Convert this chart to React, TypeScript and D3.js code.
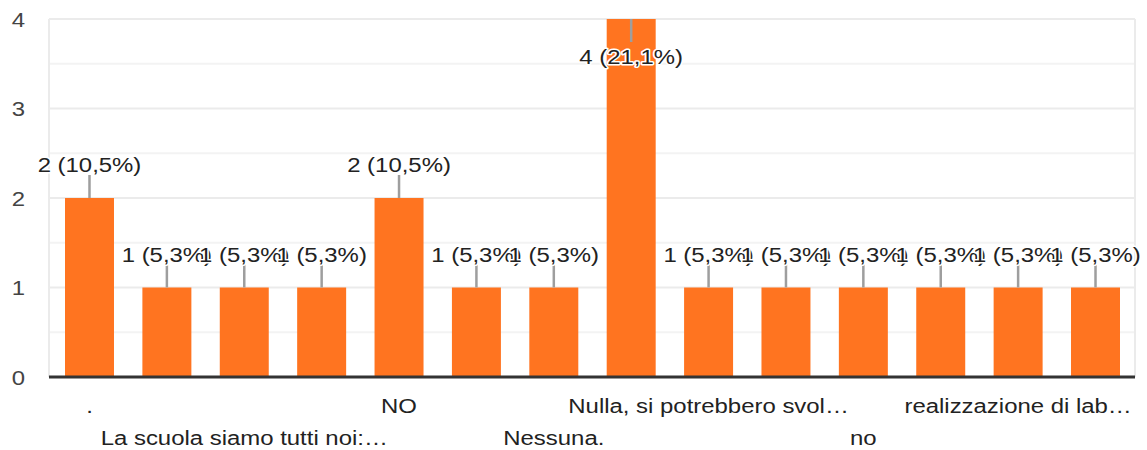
import React from "react";
import * as d3 from "d3";

const categories = [
  ".",
  "",
  "La scuola siamo tutti noi:…",
  "",
  "NO",
  "",
  "Nessuna.",
  "",
  "Nulla, si potrebbero svol…",
  "",
  "no",
  "",
  "realizzazione di lab…",
  "",
];
const values = [2, 1, 1, 1, 2, 1, 1, 4, 1, 1, 1, 1, 1, 1];
const percents = ["10,5%", "5,3%", "5,3%", "5,3%", "10,5%", "5,3%", "5,3%", "21,1%", "5,3%", "5,3%", "5,3%", "5,3%", "5,3%", "5,3%"];
const yTicks = [0, 1, 2, 3, 4];
const yMinor = [0.5, 1.5, 2.5, 3.5];

const W = 1147;
const H = 450;
const FONT = "'Liberation Sans', Arial, sans-serif";
const SX = 1.14;

function T(props: any) {
  const { x, y, children, ...rest } = props;
  return (
    <text transform={`translate(${x},${y}) scale(${SX},1)`} fontSize={21} {...rest}>
      {children}
    </text>
  );
}

export default function App() {
  const left = 49;
  const right = 1135;
  const top = 19;
  const bottom = 377;
  const p = 0.367;
  const x = d3
    .scaleBand<number>()
    .domain(values.map((_, i) => i))
    .range([50.8, 1134.2])
    .paddingInner(p)
    .paddingOuter(p / 2);
  const y = d3.scaleLinear().domain([0, 4]).range([bottom, top]);
  const bw = x.bandwidth();

  return (
    <svg
      width={W}
      height={H}
      style={{ position: "absolute", left: 0, top: 0, background: "#fff" }}
      fontFamily={FONT}
    >
      {/* grid */}
      {yMinor.map((t) => (
        <line key={"m" + t} x1={left} x2={right} y1={y(t)} y2={y(t)} stroke="#f3f3f3" strokeWidth={2} />
      ))}
      {yTicks.map((t) => (
        <line key={"g" + t} x1={left} x2={right} y1={y(t)} y2={y(t)} stroke="#ebebeb" strokeWidth={2} />
      ))}
      <line x1={left} x2={left} y1={top} y2={bottom} stroke="#ebebeb" strokeWidth={2} />
      <line x1={right} x2={right} y1={top} y2={bottom} stroke="#ebebeb" strokeWidth={2} />

      {/* y tick labels */}
      {yTicks.map((t) => (
        <T key={"t" + t} x={25} y={y(t) + 7.5} textAnchor="end" fill="#444">
          {t}
        </T>
      ))}

      {/* bars */}
      {values.map((v, i) => (
        <rect key={"b" + i} x={x(i)!} y={y(v)} width={bw} height={bottom - y(v)} fill="#ff7420" />
      ))}

      {/* axis baseline */}
      <line x1={left} x2={right} y1={bottom} y2={bottom} stroke="#333" strokeWidth={3} />

      {/* value labels */}
      {values.map((v, i) => {
        const cx = x(i)! + bw / 2;
        const ty = y(v);
        const inside = v >= 4;
        const l1 = ty;
        const l2 = inside ? ty + 23 : ty - 23;
        const baseline = inside ? ty + 45 : ty - 26;
        return (
          <g key={"l" + i}>
            <line x1={cx} x2={cx} y1={l1} y2={l2} stroke="#9e9e9e" strokeWidth={2.5} />
            <T
              x={cx}
              y={baseline}
              textAnchor="middle"
              fill="#222"
              stroke="#fff"
              strokeWidth={3}
              strokeLinejoin="round"
              paintOrder="stroke"
            >
              {`${v} (${percents[i]})`}
            </T>
          </g>
        );
      })}

      {/* x labels */}
      {categories.map((c, i) => {
        if (i % 2 === 1 || !c) return null;
        const row = (i / 2) % 2;
        const cx = x(i)! + bw / 2;
        return (
          <T key={"x" + i} x={cx} y={row === 0 ? 413 : 445} textAnchor="middle" fill="#222">
            {c}
          </T>
        );
      })}
    </svg>
  );
}
